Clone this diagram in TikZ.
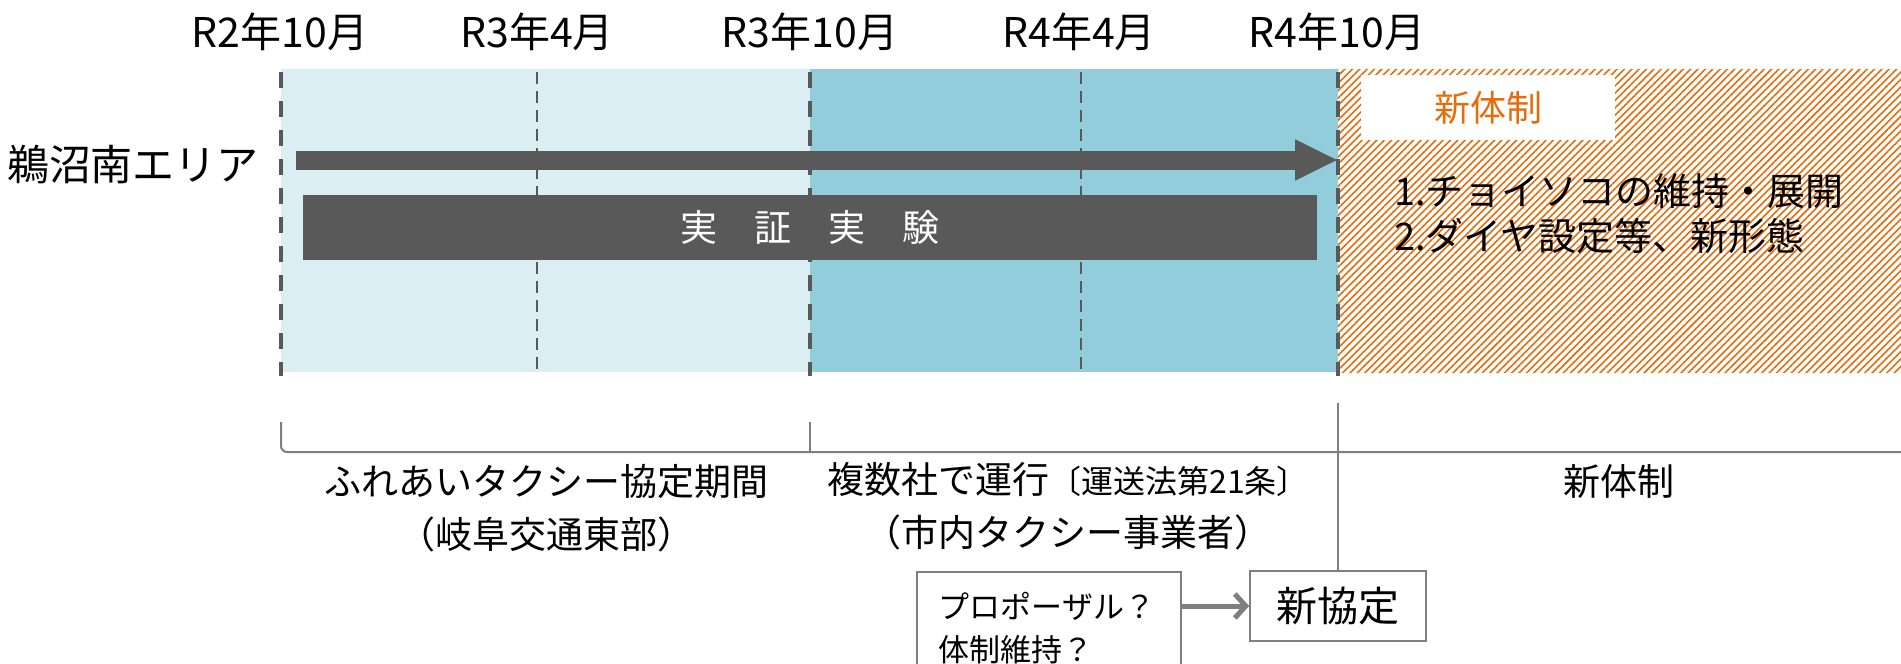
\documentclass[tikz,border=0pt]{standalone}
\usepackage{fontspec}
\setmainfont{Noto Sans CJK JP}
\usetikzlibrary{arrows.meta,patterns.meta}
\definecolor{paleblue}{HTML}{DAEEF3}
\definecolor{midblue}{HTML}{92CDDC}
\definecolor{bargray}{HTML}{595959}
\definecolor{linegray}{HTML}{7F7F7F}
\definecolor{neworange}{HTML}{E46C0A}

\begin{document}
\begin{tikzpicture}
        [x=0.5pt,y=-0.5pt,
         month/.style={font=\fontsize{20.5}{24}\selectfont},
         period/.style={font=\fontsize{18.5}{26.5}\selectfont,align=center},
         mainsep/.style={bargray,line width=2pt,dash pattern=on 8pt off 6.5pt},
         subsep/.style={bargray,line width=1pt,dash pattern=on 6pt off 3.5pt},
         bracket/.style={linegray,line width=1pt},
         plainbox/.style={draw=linegray,line width=0.8pt,fill=white,inner sep=0pt}]
        \useasboundingbox (0,0) rectangle (1901,664);

        % periods
        \fill[paleblue] (281,69) rectangle (810,372);
        \fill[midblue] (810,69) rectangle (1338,372);
        \fill[pattern={Lines[angle=45,distance=2.6pt,line width=0.8pt]},pattern color=neworange] (1338,69) rectangle (1901,372);

        \draw[mainsep] (281,72) -- (281,376);
        \draw[subsep] (537,72) -- (537,372);
        \draw[mainsep] (810,72) -- (810,376);
        \draw[subsep] (1081,72) -- (1081,372);
        \draw[mainsep] (1338,72) -- (1338,376);

        \node[month] (m1) at (280,32) {R2年10月};
        \node[month] (m2) at (537,32) {R3年4月};
        \node[month] (m3) at (810,32) {R3年10月};
        \node[month] (m4) at (1079,32) {R4年4月};
        \node[month] (m5) at (1337,32) {R4年10月};

        \node[font=\fontsize{21}{24}\selectfont] (area) at (133,165) {鵜沼南エリア};

        \coordinate (trialstart) at (296,160);
        \coordinate (trialend) at (1338,160);
        \draw[bargray,line width=9.5pt,-{Triangle[length=21.5pt,width=19pt]}] (trialstart) -- (trialend);
        \node[fill=bargray,text=white,minimum width=507pt,minimum height=32.5pt,inner sep=0pt,
              font=\fontsize{18.5}{22}\selectfont] (trial) at (810,227.5) {実　証　実　験};

        \node[fill=white,minimum width=127pt,minimum height=32.5pt,inner sep=0pt,text=neworange,
              font=\fontsize{18}{22}\selectfont] (newsys) at (1488,107.5) {新体制};
        \node[anchor=west,align=left,font=\fontsize{19}{22.5}\selectfont] (plan) at (1387,214)
              {1.チョイソコの維持・展開\\2.ダイヤ設定等、新形態};

        % bracket below
        \draw[bracket,rounded corners=3pt] (281,422) -- (281,452) -- (1901,452);
        \draw[bracket] (810,422) -- (810,452);

        \node[period] (fureai) at (546,508) {ふれあいタクシー協定期間\\（岐阜交通東部）};
        \node[period] (several) at (1068,506) {複数社で運行{\fontsize{16}{20}\selectfont〔運送法第21条〕}\\（市内タクシー事業者）};
        \node[period] (newsys2) at (1619,482) {新体制};

        \node[plainbox,anchor=north west,align=left,text width=110pt,inner xsep=11pt,inner ysep=4pt,
              minimum height=56pt,font=\fontsize{15.5}{21.5}\selectfont] (proposal) at (916,571)
              {プロポーザル？\\体制維持？};
        \node[plainbox,minimum width=88pt,minimum height=35pt,font=\fontsize{20.5}{24}\selectfont] (newdeal) at (1338,606) {新協定};

        \coordinate (cut) at (1338,403);
        \draw[bracket] (cut) -- (newdeal);
        \draw[linegray,line width=2.5pt,-{Straight Barb[length=5.5pt,width=12pt]}] (proposal.east |- newdeal.west) -- (newdeal.west);

    \end{tikzpicture}
\end{document}
